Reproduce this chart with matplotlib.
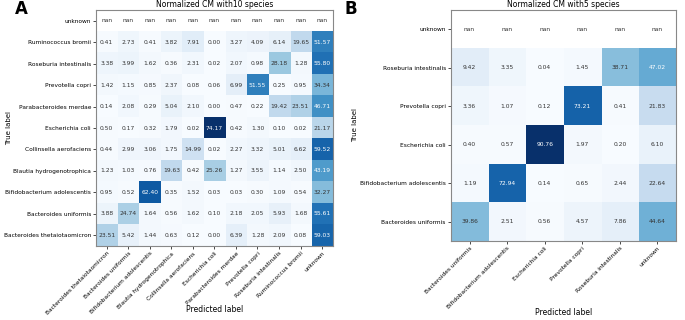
import numpy as np
import matplotlib
matplotlib.use("Agg")
import matplotlib.pyplot as plt

nan = np.nan

# Panel A: 10 species + unknown
labels_a = ["Bacteroides thetaiotaomicron", "Bacteroides uniformis",
            "Bifidobacterium adolescentis", "Blautia hydrogenotrophica",
            "Collinsella aerofaciens", "Escherichia coli",
            "Parabacteroides merdae", "Prevotella copri",
            "Roseburia intestinalis", "Ruminococcus bromii", "unknown"]
cm_a = np.array([
    [23.51, 5.42, 1.44, 0.63, 0.12, 0.00, 6.39, 1.28, 2.09, 0.08, 59.03],
    [3.88, 24.74, 1.64, 0.56, 1.62, 0.10, 2.18, 2.05, 5.93, 1.68, 55.61],
    [0.95, 0.52, 62.40, 0.35, 1.52, 0.03, 0.03, 0.30, 1.09, 0.54, 32.27],
    [1.23, 1.03, 0.76, 19.63, 0.42, 25.26, 1.27, 3.55, 1.14, 2.50, 43.19],
    [0.44, 2.99, 3.06, 1.75, 14.99, 0.02, 2.27, 3.32, 5.01, 6.62, 59.52],
    [0.50, 0.17, 0.32, 1.79, 0.02, 74.17, 0.42, 1.30, 0.10, 0.02, 21.17],
    [0.14, 2.08, 0.29, 5.04, 2.10, 0.00, 0.47, 0.22, 19.42, 23.51, 46.71],
    [1.42, 1.15, 0.85, 2.37, 0.08, 0.06, 6.99, 51.55, 0.25, 0.95, 34.34],
    [3.38, 3.99, 1.62, 0.36, 2.31, 0.02, 2.07, 0.98, 28.18, 1.28, 55.80],
    [0.41, 2.73, 0.41, 3.82, 7.91, 0.00, 3.27, 4.09, 6.14, 19.65, 51.57],
    [nan] * 11,
])

# Panel B: 5 species + unknown
labels_b = ["Bacteroides uniformis", "Bifidobacterium adolescentis",
            "Escherichia coli", "Prevotella copri",
            "Roseburia intestinalis", "unknown"]
cm_b = np.array([
    [39.86, 2.51, 0.56, 4.57, 7.86, 44.64],
    [1.19, 72.94, 0.14, 0.65, 2.44, 22.64],
    [0.40, 0.57, 90.76, 1.97, 0.20, 6.10],
    [3.36, 1.07, 0.12, 73.21, 0.41, 21.83],
    [9.42, 3.35, 0.04, 1.45, 38.71, 47.02],
    [nan] * 6,
])


def plot_cm(ax, cm, labels, title):
    ax.imshow(cm, cmap=plt.cm.Blues, interpolation="nearest", aspect="auto",
              origin="lower")
    ax.set_title(title, fontsize=5.5, pad=2)
    ticks = np.arange(len(labels))
    ax.set_xticks(ticks)
    ax.set_xticklabels(labels, rotation=45, ha="right", rotation_mode="anchor",
                       fontsize=4.2)
    ax.set_yticks(ticks)
    ax.set_yticklabels(labels, fontsize=4.2)
    ax.tick_params(length=2, width=0.5, pad=1.5)
    thresh = np.nanmax(cm) / 2.0
    for i in range(cm.shape[0]):
        for j in range(cm.shape[1]):
            v = cm[i, j]
            ax.text(j, i, "nan" if np.isnan(v) else format(v, ".2f"),
                    ha="center", va="center", fontsize=4.3,
                    color="white" if v > thresh else "#333333")
    ax.set_ylabel("True label", fontsize=5)
    ax.set_xlabel("Predicted label", fontsize=5.5)
    for s in ax.spines.values():
        s.set_color("#888888")
        s.set_linewidth(0.8)


fig = plt.figure(figsize=(6.85, 3.2), dpi=100)

ax_a = fig.add_axes([0.140, 0.231, 0.346, 0.738])
plot_cm(ax_a, cm_a, labels_a, "Normalized CM with10 species")
ax_a.yaxis.set_label_coords(-0.355, 0.5)
ax_a.xaxis.set_label_coords(0.5, -0.25)

ax_b = fig.add_axes([0.658, 0.247, 0.329, 0.722])
plot_cm(ax_b, cm_b, labels_b, "Normalized CM with5 species")
ax_b.yaxis.set_label_coords(-0.41, 0.5)
ax_b.xaxis.set_label_coords(0.5, -0.29)

fig.text(0.022, 0.955, "A", fontsize=12, fontweight="bold")
fig.text(0.503, 0.955, "B", fontsize=12, fontweight="bold")

fig.savefig("out.png", dpi=100)
